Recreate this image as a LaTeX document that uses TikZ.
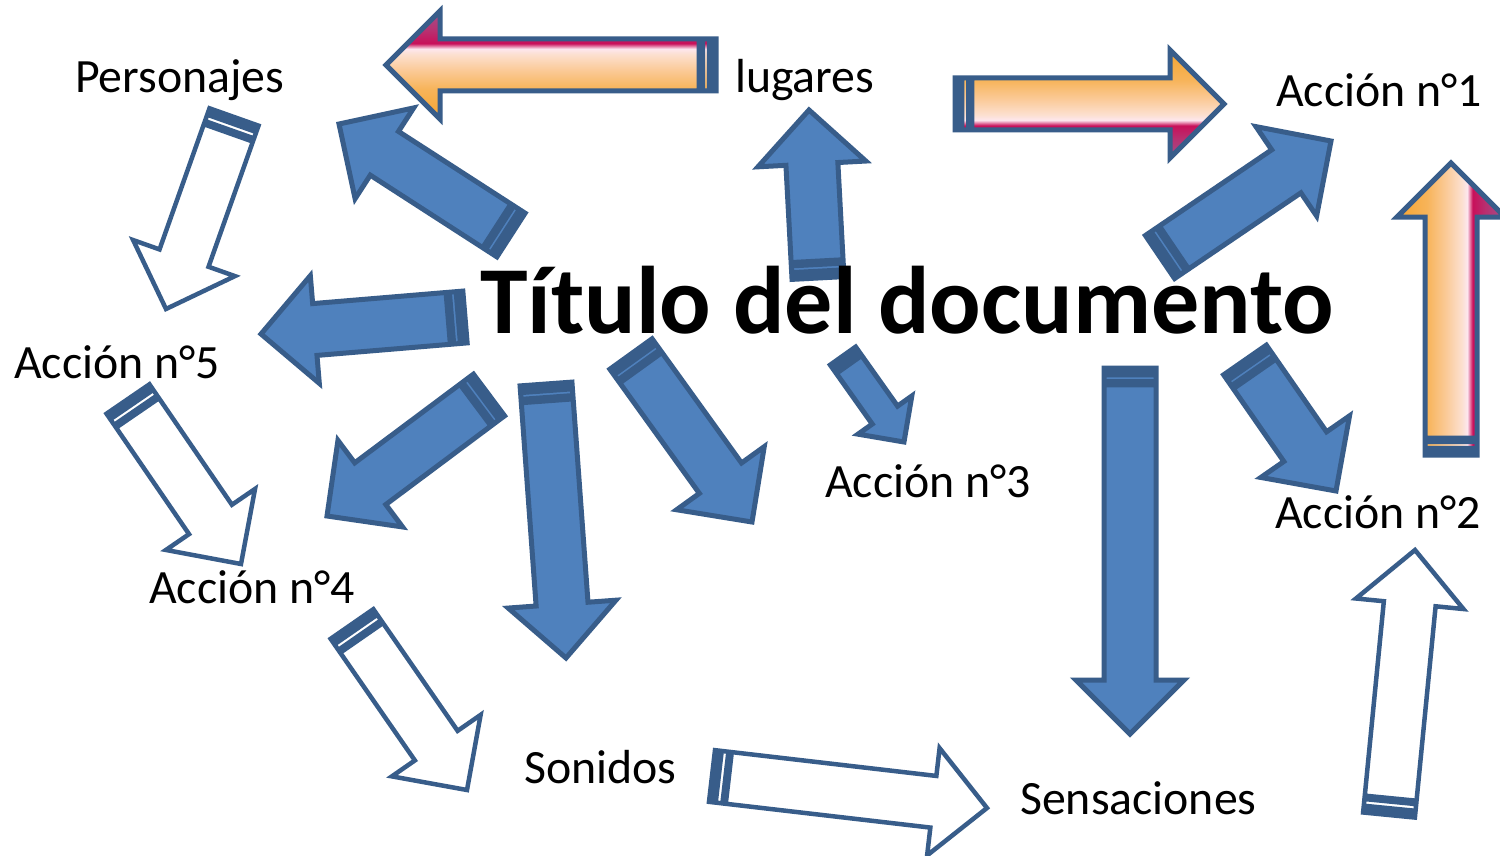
\documentclass[tikz,border=0pt]{standalone}
\usepackage{fontspec}
\setmainfont{Carlito}
\usetikzlibrary{calc}
\definecolor{abfill}{HTML}{4F81BD}
\definecolor{abline}{HTML}{385D8A}
\definecolor{gzero}{HTML}{A0508A}
\definecolor{gone}{HTML}{B83070}
\definecolor{gtwo}{HTML}{C8105A}
\definecolor{gthree}{HTML}{FDE6EE}
\definecolor{gfour}{HTML}{FCE0D0}
\definecolor{gfive}{HTML}{FBCB9A}
\definecolor{gsix}{HTML}{F7B45A}
\definecolor{gseven}{HTML}{F5A530}
\pgfdeclareverticalshading{sunset}{100bp}{color(0bp)=(gzero); color(25bp)=(gzero); color(34bp)=(gone); color(40bp)=(gtwo); color(42.5bp)=(gthree); color(45bp)=(gfour); color(52bp)=(gfive); color(61bp)=(gsix); color(75bp)=(gseven); color(100bp)=(gseven)}
\makeatletter
\newdimen\bdx \newdimen\bdy
\newcommand{\stripedarrow}[6]{%
  \pgfpointdiff{\pgfpointanchor{#2}{center}}{\pgfpointanchor{#3}{center}}%
  \bdx=\pgf@x \bdy=\pgf@y
  \pgfmathsetmacro\slen{veclen(\the\bdx,\the\bdy)}%
  \pgfmathsetmacro\sang{atan2(\the\bdy,\the\bdx)}%
  \pgfmathsetmacro\su{#5/16}%
  \pgfmathsetmacro\sb{\slen-#6}%
  \begin{scope}[shift={(#2)}, rotate=\sang]
    \path[#1] (0,-#4) -- (\su,-#4) -- (\su,#4) -- (0,#4) -- cycle
      (2*\su,-#4) -- (4*\su,-#4) -- (4*\su,#4) -- (2*\su,#4) -- cycle
      (5*\su,-#4) -- (\sb,-#4) -- (\sb,-#5) -- (\slen,0) -- (\sb,#5) -- (\sb,#4) -- (5*\su,#4) -- cycle;
  \end{scope}}
\makeatother
\tikzset{
  bluearrow/.style={fill=abfill, draw=abline, line width=5pt},
  whitearrow/.style={fill=white, draw=abline, line width=4.5pt},
  sunarrow/.style={shade, shading=sunset, draw=abline, line width=5pt},
  lbl/.style={anchor=base west, inner sep=0pt, font=\fontsize{47.8}{56}\selectfont},
  ttl/.style={anchor=base west, inner sep=0pt, font=\fontsize{96}{110}\selectfont\bfseries}
}
\begin{document}
\begin{tikzpicture}[x=1pt, y=-1pt]
\fill[white] (0,0) rectangle (1500,856);
\useasboundingbox (0,0) rectangle (1500,856);
% arrow end points
\coordinate (a1t) at (716,65);   \coordinate (a1h) at (386,65);
\coordinate (a2t) at (955,104);  \coordinate (a2h) at (1224,104);
\coordinate (a3t) at (1451,455); \coordinate (a3h) at (1451,163);
\coordinate (a4t) at (511,235);  \coordinate (a4h) at (339,124);
\coordinate (a5t) at (465,317);  \coordinate (a5h) at (261,334);
\coordinate (a6t) at (489,395);  \coordinate (a6h) at (327,516);
\coordinate (a7t) at (546,384);  \coordinate (a7h) at (566,658);
\coordinate (a8t) at (631,354);  \coordinate (a8h) at (752,522);
\coordinate (a9t) at (843,356);  \coordinate (a9h) at (904,442);
\coordinate (a10t) at (818,278); \coordinate (a10h) at (809,110);
\coordinate (a11t) at (1160,257);\coordinate (a11h) at (1331,141);
\coordinate (a12t) at (1130,368);\coordinate (a12h) at (1130,734);
\coordinate (a13t) at (1245,360);\coordinate (a13h) at (1336,491);
\coordinate (w1t) at (234,117);  \coordinate (w1h) at (166,309);
\coordinate (w2t) at (128,399);  \coordinate (w2h) at (241,564);
\coordinate (w3t) at (352,624);  \coordinate (w3h) at (467,790);
\coordinate (w4t) at (712,776);  \coordinate (w4h) at (987,808);
\coordinate (w5t) at (1389,815); \coordinate (w5h) at (1415,550);
% gradient arrows
\stripedarrow{sunarrow, shading angle=180}{a1t}{a1h}{26}{54}{54}
\stripedarrow{sunarrow, shading angle=0}{a2t}{a2h}{26}{54}{54}
\stripedarrow{sunarrow, shading angle=90}{a3t}{a3h}{26}{54}{54}
% blue arrows
\stripedarrow{bluearrow}{a4t}{a4h}{26}{54}{54}
\stripedarrow{bluearrow}{a5t}{a5h}{26}{54}{54}
\stripedarrow{bluearrow}{a6t}{a6h}{26}{54}{54}
\stripedarrow{bluearrow}{a7t}{a7h}{26}{54}{54}
\stripedarrow{bluearrow}{a8t}{a8h}{26}{54}{54}
\stripedarrow{bluearrow}{a9t}{a9h}{15.5}{33}{33}
\stripedarrow{bluearrow}{a10t}{a10h}{26}{54}{54}
\stripedarrow{bluearrow}{a11t}{a11h}{26}{54}{54}
\stripedarrow{bluearrow}{a12t}{a12h}{26}{54}{54}
\stripedarrow{bluearrow}{a13t}{a13h}{26}{54}{54}
% white arrows
\stripedarrow{whitearrow}{w1t}{w1h}{26}{54}{54}
\stripedarrow{whitearrow}{w2t}{w2h}{26}{54}{54}
\stripedarrow{whitearrow}{w3t}{w3h}{26}{54}{54}
\stripedarrow{whitearrow}{w4t}{w4h}{26}{54}{54}
\stripedarrow{whitearrow}{w5t}{w5h}{26}{54}{54}
% texts
\node[ttl] (title) at (480,333) {Título del documento};
\node[lbl] (pers) at (75,93) {Personajes};
\node[lbl] (lug) at (735,93) {lugares};
\node[lbl] (ac1) at (1276,107) {Acción n°1};
\node[lbl] (ac5) at (14,378) {Acción n°5};
\node[lbl] (ac4) at (149,603) {Acción n°4};
\node[lbl] (ac3) at (825,497) {Acción n°3};
\node[lbl] (ac2) at (1275,528) {Acción n°2};
\node[lbl] (son) at (524,783) {Sonidos};
\node[lbl] (sen) at (1020,814) {Sensaciones};
\end{tikzpicture}
\end{document}
